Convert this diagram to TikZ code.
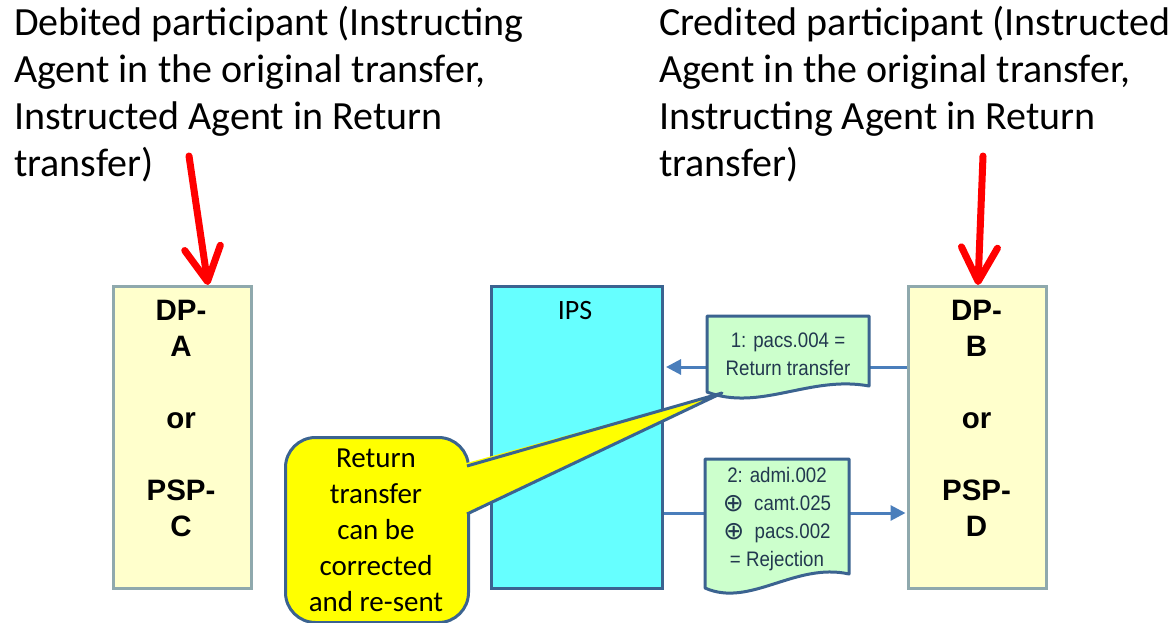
\documentclass[tikz,border=0pt]{standalone}
\usepackage{fontspec}
\setmainfont{Carlito}
\newfontfamily\arialfont{Liberation Sans}
\newfontfamily\narrowfont[FakeStretch=0.89]{Liberation Sans}
\newfontfamily\symbolfont{DejaVu Sans}
\usetikzlibrary{arrows.meta}
\definecolor{boxyellow}{HTML}{FFFFCC}
\definecolor{partborder}{HTML}{8FA9AD}
\definecolor{ipscyan}{HTML}{66FFFF}
\definecolor{darkblue}{HTML}{3B6390}
\definecolor{docgreen}{HTML}{CCFFCC}
\definecolor{arrowblue}{HTML}{4A7EBB}
\definecolor{doctext}{HTML}{22384F}
\definecolor{callyellow}{HTML}{FFFF00}
\definecolor{redarrow}{HTML}{FF0000}
\newcommand{\opl}{\raisebox{-1pt}{\symbolfont\fontsize{25}{28}\selectfont ⊕}}
\tikzset{
  participant/.style={draw=partborder, line width=3pt, fill=boxyellow, inner sep=0, minimum width=138pt, minimum height=302pt, anchor=north west},
  ipsbox/.style={draw=darkblue, line width=3pt, fill=ipscyan, inner sep=0, minimum width=171pt, minimum height=302pt, anchor=north west},
  parttext/.style={font=\arialfont\bfseries\fontsize{29.5}{36}\selectfont, align=center, inner sep=0, anchor=north},
  docshape/.style={draw=darkblue, line width=3pt, fill=docgreen, line join=round},
  doctxt/.style={font=\narrowfont\fontsize{21}{28}\selectfont, text=doctext, align=center, inner sep=0, anchor=north},
  msgarrow/.style={draw=arrowblue, line width=3pt, -{Triangle[length=15pt,width=15pt]}},
  callout/.style={draw=darkblue, line width=3pt, fill=callyellow, rounded corners=30pt, inner sep=0, minimum width=183pt, minimum height=185pt, anchor=north west},
  calltxt/.style={font=\fontsize{29}{36}\selectfont, align=center, inner sep=0, anchor=north},
  toplabel/.style={font=\fontsize{40}{47}\selectfont, align=left, inner sep=0, anchor=north west},
  redarr/.style={draw=redarrow, line width=7pt, line cap=round, -{Straight Barb[length=34pt,width=36pt,round]}}
}
\begin{document}
\begin{tikzpicture}[x=1pt,y=-1pt]
\useasboundingbox[fill=white] (0,0) rectangle (1173,623);

% participant boxes
\node[participant] (dpa) at (112,285) {};
\node[participant] (dpb) at (907,285) {};
\node[parttext] (dpatext) at (181,297) {\rule{0pt}{23pt}DP-\\A\\[36pt]or\\[36pt]PSP-\\C};
\node[parttext] (dpbtext) at (976.5,297) {\rule{0pt}{23pt}DP-\\B\\[36pt]or\\[36pt]PSP-\\D};

% IPS
\node[ipsbox] (ips) at (490,285) {};
\node[font=\fontsize{28}{34}\selectfont, inner sep=0, anchor=base] (ipstext) at (575,319) {IPS};

% message arrows
\coordinate (m1y) at (0,367);
\coordinate (m2y) at (0,513);
\draw[msgarrow, shorten >=2pt] (dpb.west |- m1y) -- (ips.east |- m1y);
\draw[msgarrow, shorten >=1.5pt] (ips.east |- m2y) -- (dpb.west |- m2y);

% documents
\path[docshape] (707,392) -- (707,316) -- (869,316) -- (869,386)
   .. controls (810,375) and (760,412) .. (707,392) -- cycle;
\node[doctxt] (msg1) at (788,329) {\rule{0pt}{18pt}1: pacs.004 =\\Return transfer};
\path[docshape] (705,588) -- (705,459) -- (849,459) -- (849,574)
   .. controls (795,562) and (750,608) .. (705,588) -- cycle;
\node[doctxt] (msg2) at (777,464) {\rule{0pt}{18pt}2: admi.002\\\opl\ \ camt.025\\\opl\ \ pacs.002\\= Rejection};

% callout
\node[callout] (call) at (284,436) {};
\coordinate (tip) at (722,393);
\coordinate (ta) at (467,466);
\coordinate (tb) at (467,514);
\fill[callyellow] (463,464) -- (tip) -- (463,516) -- cycle;
\draw[draw=darkblue, line width=3pt, line join=round] (ta) -- (tip) -- (tb);
\node[calltxt] (calltext) at (376,443) {\rule{0pt}{24pt}Return\\transfer\\can be\\corrected\\and re-sent};

% top labels
\node[toplabel] (deb) at (14,1) {\rule{0pt}{34pt}Debited participant (Instructing\\Agent in the original transfer,\\Instructed Agent in Return\\transfer)};
\node[toplabel] (cred) at (659,1) {\rule{0pt}{34pt}Credited participant (Instructed\\Agent in the original transfer,\\Instructing Agent in Return\\transfer)};

% red arrows
\coordinate (ls) at (189,156);
\coordinate (lx) at (208,0);
\coordinate (rs) at (983,156);
\coordinate (rx) at (978,0);
\draw[redarr] (ls) -- (dpa.north -| lx);
\draw[redarr] (rs) -- (dpb.north -| rx);
\end{tikzpicture}
\end{document}
